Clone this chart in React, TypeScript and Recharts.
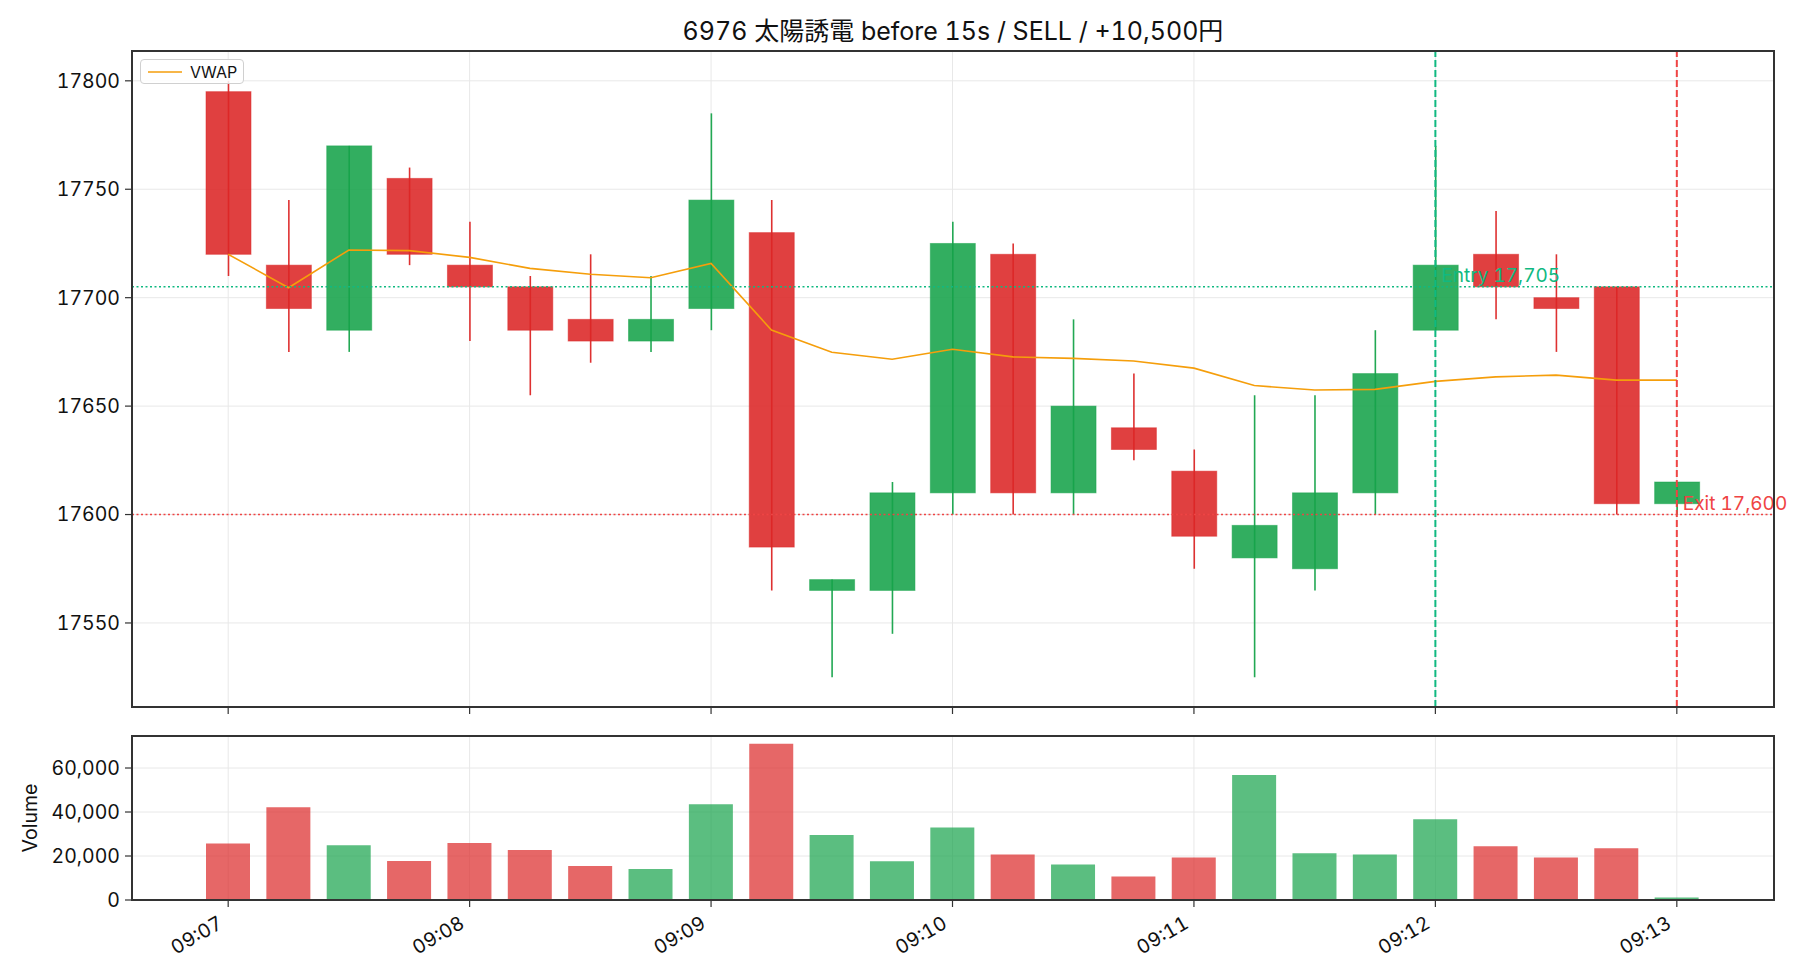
import React from 'react'
import {
  ComposedChart,
  BarChart,
  Bar,
  Line,
  Cell,
  XAxis,
  YAxis,
  CartesianGrid,
  ReferenceLine,
  ReferenceDot,
  Legend
} from 'recharts'

const title = '6976 太陽誘電 before 15s / SELL / +10,500円'

const times = [
  '09:07:00', '09:07:15', '09:07:30', '09:07:45',
  '09:08:00', '09:08:15', '09:08:30', '09:08:45',
  '09:09:00', '09:09:15', '09:09:30', '09:09:45',
  '09:10:00', '09:10:15', '09:10:30', '09:10:45',
  '09:11:00', '09:11:15', '09:11:30', '09:11:45',
  '09:12:00', '09:12:15', '09:12:30', '09:12:45',
  '09:13:00'
]
const opens = [17795, 17715, 17685, 17755, 17715, 17705, 17690, 17680, 17695, 17730, 17565, 17565, 17610, 17720, 17610, 17640, 17620, 17580, 17575, 17610, 17685, 17720, 17700, 17705, 17605]
const closes = [17720, 17695, 17770, 17720, 17705, 17685, 17680, 17690, 17745, 17585, 17570, 17610, 17725, 17610, 17650, 17630, 17590, 17595, 17610, 17665, 17715, 17705, 17695, 17605, 17615]
const highs = [17800, 17745, 17770, 17760, 17735, 17710, 17720, 17710, 17785, 17745, 17570, 17615, 17735, 17725, 17690, 17665, 17630, 17655, 17655, 17685, 17770, 17740, 17720, 17705, 17615]
const lows = [17710, 17675, 17675, 17715, 17680, 17655, 17670, 17675, 17685, 17565, 17525, 17545, 17600, 17600, 17600, 17625, 17575, 17525, 17565, 17600, 17685, 17690, 17675, 17600, 17600]
const vwap = [17720, 17704.6, 17722, 17721.7, 17718.6, 17713.5, 17710.8, 17709.2, 17715.8, 17685.1, 17674.8, 17671.6, 17676.2, 17672.7, 17672, 17670.8, 17667.5, 17659.5, 17657.4, 17657.7, 17661.4, 17663.5, 17664.3, 17662, 17662]
const volumes = [25700, 42200, 24900, 17700, 25900, 22700, 15400, 14100, 43500, 71000, 29500, 17600, 33000, 20700, 16100, 10700, 19300, 56800, 21200, 20700, 36700, 24400, 19300, 23500, 1100]

const tickTimes = ['09:07:00', '09:08:00', '09:09:00', '09:10:00', '09:11:00', '09:12:00', '09:13:00']
const priceTicks = [17550, 17600, 17650, 17700, 17750, 17800]
const volumeTicks = [0, 20000, 40000, 60000]

const entry = { time: '09:12:00', price: 17705, label: 'Entry 17,705' }
const exit = { time: '09:13:00', price: 17600, label: 'Exit 17,600' }

const UP = '#16a34a'
const DOWN = '#dc2626'
const ENTRY_COLOR = '#10b981'
const EXIT_COLOR = '#ef4444'
const FONT = "Inter, 'Noto Sans CJK JP', sans-serif"
const NUM = { fontVariantNumeric: 'tabular-nums' as const }

const rows = times.map((t, i) => ({
  time: t,
  open: opens[i],
  close: closes[i],
  high: highs[i],
  low: lows[i],
  vwap: vwap[i],
  volume: volumes[i],
  up: closes[i] >= opens[i]
}))

const lo = Math.min(...lows)
const hi = Math.max(...highs)
const pad = (hi - lo) * 0.05

const Candle = (props: any) => {
  const { x, y, width, height, payload } = props
  if (!payload) return null
  const top = Math.min(y, y + height)
  const h = Math.abs(height)
  const span = payload.high - payload.low
  const k = span > 0 ? h / span : 0
  const bodyTop = top + (payload.high - Math.max(payload.open, payload.close)) * k
  const bodyBot = top + (payload.high - Math.min(payload.open, payload.close)) * k
  const color = payload.up ? UP : DOWN
  const cx = x + width / 2
  return (
    <g>
      <rect x={x} y={bodyTop} width={width} height={Math.max(bodyBot - bodyTop, 1)}
        fill={color} fillOpacity={0.88} stroke={color} strokeOpacity={0.5} strokeWidth={1} />
      <line x1={cx} x2={cx} y1={top} y2={top + h} stroke={color} strokeWidth={1.6} strokeOpacity={0.95} />
    </g>
  )
}

const TimeTick = (props: any) => {
  const { x, y, payload } = props
  const px = x - 4
  const py = y + 18
  return (
    <text x={px} y={py} transform={`rotate(-30 ${px} ${py})`} textAnchor='end'
      fill='#111' fontSize={19.5} fontFamily={FONT} style={NUM}>
      {String(payload.value).slice(0, 5)}
    </text>
  )
}

const VolumeLabel = (props: any) => {
  const { viewBox } = props
  if (!viewBox) return null
  const lx = viewBox.x + 8
  const ly = viewBox.y + viewBox.height / 2
  return (
    <text x={lx} y={ly} transform={`rotate(-90 ${lx} ${ly})`} textAnchor='middle'
      dominantBaseline='central' fill='#111' fontSize={19.5} fontFamily={FONT}>
      Volume
    </text>
  )
}

const tradeLabel = (text: string, color: string) => (props: any) => {
  const { viewBox } = props
  if (!viewBox) return null
  const cx = viewBox.x + (viewBox.width || 0) / 2
  const cy = viewBox.y + (viewBox.height || 0) / 2
  return (
    <text x={cx + 6} y={cy - 5} fill={color} fontSize={19} fontFamily={FONT} style={NUM}>{text}</text>
  )
}

const LegendBox = (props: any) => {
  const items = (props.payload || []).filter((p: any) => p.type !== 'none')
  return (
    <div style={{
      boxSizing: 'border-box', width: 104, height: 25, border: '1px solid #d0d0d0', borderRadius: 4,
      background: 'rgba(255,255,255,0.85)', display: 'flex', alignItems: 'center', paddingLeft: 7
    }}>
      {items.map((p: any) => (
        <div key={p.value} style={{ display: 'flex', alignItems: 'center' }}>
          <svg width={34} height={4}><line x1={0} x2={34} y1={2} y2={2} stroke={p.color} strokeWidth={1.6} /></svg>
          <span style={{ marginLeft: 8, fontSize: 16, fontFamily: FONT, color: '#111' }}>{p.value}</span>
        </div>
      ))}
    </div>
  )
}

const tickStyle = { fill: '#111', fontSize: 19.5, fontFamily: FONT, style: NUM }
const tickLineStyle = { stroke: '#333', strokeWidth: 1.2 }

export default function App () {
  return (
    <div style={{ position: 'absolute', left: 0, top: 0, width: 1820, height: 980, background: '#fff' }}>
      <div style={{
        position: 'absolute', left: 132, top: 16, width: 1642, textAlign: 'center',
        fontSize: 25, lineHeight: '30px', fontFamily: FONT, color: '#111', ...NUM
      }}>
        {title}
      </div>

      <div style={{ position: 'absolute', left: 0, top: 0 }}>
        <ComposedChart width={1820} height={720} data={rows} margin={{ top: 51, right: 46, bottom: 0, left: 52 }}>
          <CartesianGrid stroke='#e8e8e8' strokeWidth={1} />
          <XAxis dataKey='time' ticks={tickTimes} interval={0} padding={{ left: 66, right: 67 }}
            height={13} tickSize={7} axisLine={false} tickLine={tickLineStyle} tickFormatter={() => ''} />
          <YAxis domain={[lo - pad, hi + pad]} ticks={priceTicks} width={80} tickSize={7} tickMargin={5}
            axisLine={false} tickLine={tickLineStyle} tick={tickStyle} />
          <Bar dataKey={(d: any) => [d.low, d.high]} shape={<Candle />} barSize={45}
            isAnimationActive={false} legendType='none' />
          <Line dataKey='vwap' name='VWAP' type='linear' stroke='#f59e0b' strokeWidth={1.6}
            dot={false} activeDot={false} isAnimationActive={false} />
          <ReferenceLine y={entry.price} stroke={ENTRY_COLOR} strokeWidth={1.5} strokeDasharray='2 2.5' />
          <ReferenceLine y={exit.price} stroke={EXIT_COLOR} strokeWidth={1.5} strokeDasharray='2 2.5' />
          <ReferenceLine x={entry.time} stroke={ENTRY_COLOR} strokeWidth={2} strokeDasharray='7 3' />
          <ReferenceLine x={exit.time} stroke={EXIT_COLOR} strokeWidth={2} strokeDasharray='7 3' />
          <ReferenceDot x={entry.time} y={entry.price} r={0} fill='none' stroke='none'
            label={tradeLabel(entry.label, ENTRY_COLOR)} />
          <ReferenceDot x={exit.time} y={exit.price} r={0} fill='none' stroke='none'
            label={tradeLabel(exit.label, EXIT_COLOR)} />
          <Legend content={<LegendBox />} layout='horizontal' align='center' verticalAlign='middle'
            wrapperStyle={{ left: 140, top: 59, width: 104, height: 25 }} />
        </ComposedChart>
      </div>
      <div style={{
        position: 'absolute', left: 131, top: 50, width: 1644, height: 658, boxSizing: 'border-box',
        border: '2px solid #333', pointerEvents: 'none'
      }} />

      <div style={{ position: 'absolute', left: 0, top: 700 }}>
        <BarChart width={1820} height={280} data={rows} margin={{ top: 36, right: 46, bottom: 5, left: 22 }}>
          <CartesianGrid stroke='#e8e8e8' strokeWidth={1} />
          <XAxis dataKey='time' ticks={tickTimes} interval={0} padding={{ left: 66, right: 67 }}
            height={75} tickSize={7} axisLine={false} tickLine={tickLineStyle} tick={<TimeTick />} />
          <YAxis domain={[0, (m: number) => m * 1.05]} ticks={volumeTicks} width={110} tickSize={7} tickMargin={5}
            axisLine={false} tickLine={tickLineStyle} tick={tickStyle}
            tickFormatter={(v: number) => v.toLocaleString('en-US')} label={<VolumeLabel />} />
          <Bar dataKey='volume' barSize={44} isAnimationActive={false}>
            {rows.map((r, i) => (
              <Cell key={i} fill={r.up ? UP : DOWN} fillOpacity={0.7} />
            ))}
          </Bar>
        </BarChart>
      </div>
      <div style={{
        position: 'absolute', left: 131, top: 735, width: 1644, height: 166, boxSizing: 'border-box',
        border: '2px solid #333', pointerEvents: 'none'
      }} />
    </div>
  )
}
